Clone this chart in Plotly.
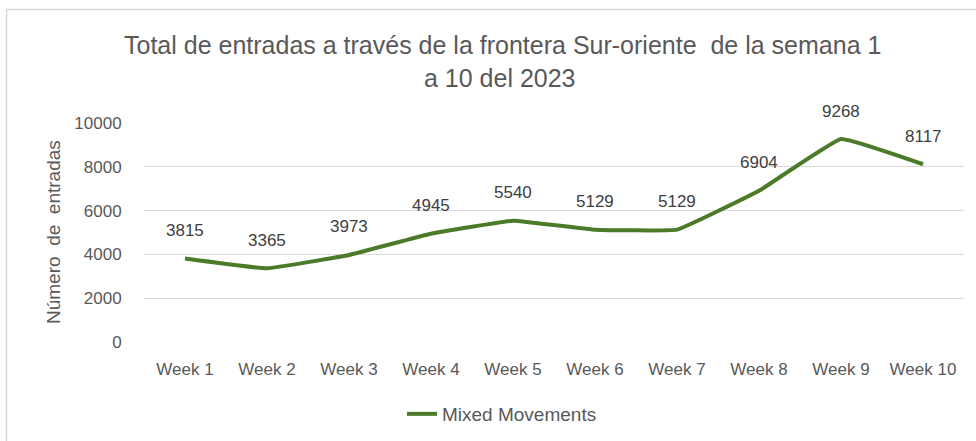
import plotly.graph_objects as go

weeks = ["Week 1", "Week 2", "Week 3", "Week 4", "Week 5", "Week 6", "Week 7", "Week 8", "Week 9", "Week 10"]
entradas = [3815, 3365, 3973, 4945, 5540, 5129, 5129, 6904, 9268, 8117]
series_name = "Mixed Movements"
y_ticks = [0, 2000, 4000, 6000, 8000, 10000]
y_tick_labels = ["0", "2000", "4000", "6000", "8000", "10000"]
title_line1 = "Total de entradas a través de la frontera Sur-oriente  de la semana 1"
title_line2 = "a 10 del 2023"
y_title = "Número  de  entradas"

GREEN = "#4B7A29"
TXT = "#595959"
FONT = "Liberation Sans"

W, H = 976, 441
L, R, T, B = 144, 12, 123, 99
pw, ph = W - L - R, H - T - B

def px_x(px):
    return (px - L) / pw

def px_y(py):
    return (H - B - py) / ph

fig = go.Figure()
fig.add_trace(go.Scatter(
    x=weeks, y=entradas, mode="lines", name=series_name,
    line=dict(color=GREEN, width=4, shape="spline", smoothing=0.25),
    hoverinfo="x+y",
))

annotations = []
for w, v in zip(weeks, entradas):
    annotations.append(dict(x=w, y=v, xref="x", yref="y", text=str(v), showarrow=False,
                            yshift=28, font=dict(family=FONT, size=17, color="#404040")))
annotations.append(dict(x=px_x(502), y=px_y(45), xref="paper", yref="paper", text=title_line1,
                        showarrow=False, xanchor="center", yanchor="middle",
                        font=dict(family=FONT, size=25, color=TXT)))
annotations.append(dict(x=px_x(500), y=px_y(78), xref="paper", yref="paper", text=title_line2,
                        showarrow=False, xanchor="center", yanchor="middle",
                        font=dict(family=FONT, size=25, color=TXT)))
annotations.append(dict(x=px_x(53), y=px_y(232), xref="paper", yref="paper", text=y_title,
                        showarrow=False, textangle=-90, xanchor="center", yanchor="middle",
                        font=dict(family=FONT, size=19, color=TXT)))

fig.update_layout(
    width=W, height=H,
    margin=dict(l=L, r=R, t=T, b=B, autoexpand=False),
    paper_bgcolor="white", plot_bgcolor="white",
    showlegend=True,
    legend=dict(x=px_x(502), y=px_y(414), xanchor="center", yanchor="middle",
                orientation="h", font=dict(family=FONT, size=19, color=TXT),
                bgcolor="rgba(0,0,0,0)"),
    annotations=annotations,
    shapes=[dict(type="path", xref="paper", yref="paper",
                 path=f"M {px_x(6.5)} {px_y(450)} L {px_x(6.5)} {px_y(9.5)} L {px_x(990)} {px_y(9.5)}",
                 line=dict(color="#D9D9D9", width=1.5))],
    xaxis=dict(range=[-0.5, 9.5], showgrid=False, zeroline=False, showline=False,
               automargin=False,
               ticks="outside", ticklen=12, tickcolor="rgba(0,0,0,0)",
               tickfont=dict(family=FONT, size=17, color=TXT), fixedrange=True),
    yaxis=dict(range=[0, 10000], tickvals=y_ticks, ticktext=y_tick_labels,
               showgrid=True, gridcolor="#D9D9D9", gridwidth=1,
               zeroline=False, showline=False, automargin=False,
               ticks="outside", ticklen=18, tickcolor="rgba(0,0,0,0)",
               tickfont=dict(family=FONT, size=17, color=TXT), fixedrange=True),
)

fig.write_html("out.html")
